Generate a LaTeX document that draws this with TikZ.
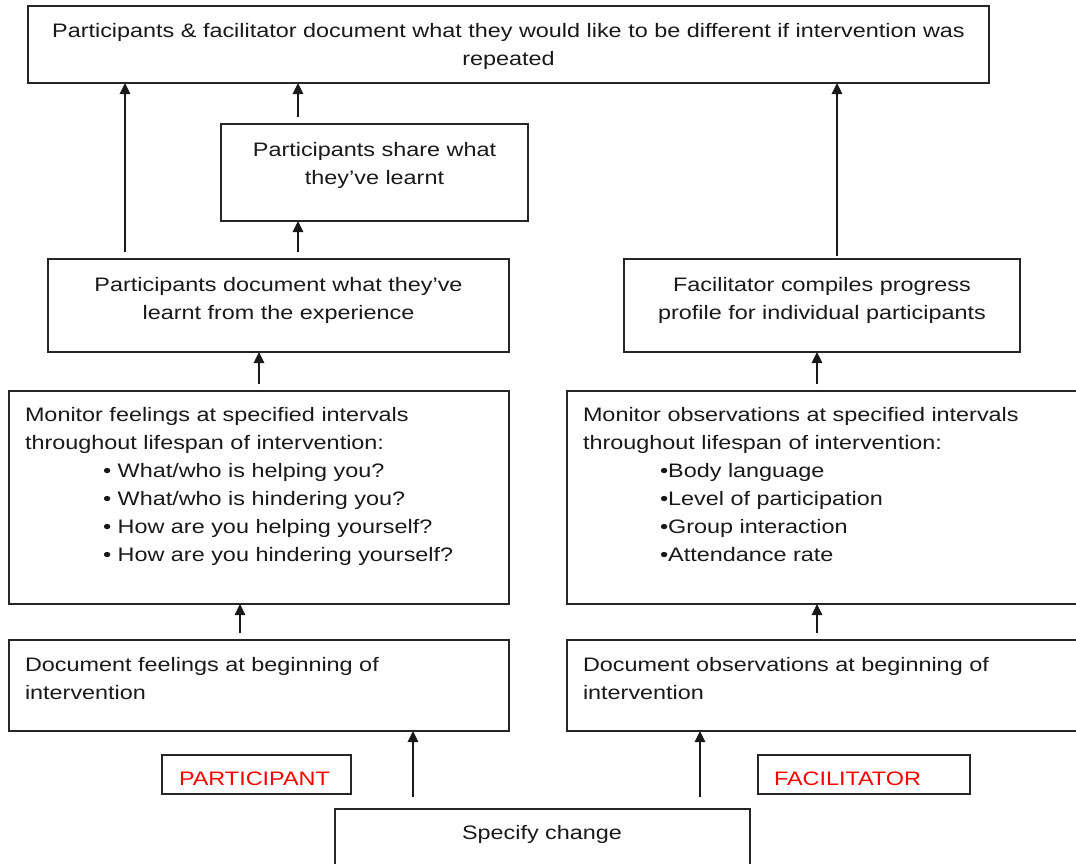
\documentclass[tikz,border=0pt]{standalone}
\usepackage{fontspec}
\setmainfont[FakeStretch=1.2]{Liberation Sans}
\usetikzlibrary{arrows.meta}
\begin{document}
\begin{tikzpicture}[x=1pt,y=-1pt,
  box/.style={draw=black!85, line width=1.3pt, inner sep=0pt, outer sep=0pt, anchor=north west},
  txt/.style={inner sep=0pt, outer sep=0pt, font=\fontsize{19.5pt}{28pt}\selectfont, text=black!90},
  redtxt/.style={txt, text=red},
  arr/.style={line width=1.5pt, draw=black!90, -{Triangle[length=11pt,width=10.5pt]}, shorten <=7pt}]
\fill[white] (0,0) rectangle (1076,863);
\useasboundingbox (0,0) rectangle (1076,863);
% boxes
\node[box, minimum width=961pt, minimum height=77pt] (top) at (28,6) {};
\node[box, minimum width=307pt, minimum height=97pt] (share) at (221,124) {};
\node[box, minimum width=461pt, minimum height=93pt] (pdoc) at (48,259) {};
\node[box, minimum width=396pt, minimum height=93pt] (fcomp) at (624,259) {};
\node[box, minimum width=500pt, minimum height=213pt] (monF) at (9,391) {};
\node[box, minimum width=530pt, minimum height=213pt] (monO) at (567,391) {};
\node[box, minimum width=500pt, minimum height=91pt] (docF) at (9,640) {};
\node[box, minimum width=530pt, minimum height=91pt] (docO) at (567,640) {};
\node[box, minimum width=189pt, minimum height=39pt] (part) at (162,755) {};
\node[box, minimum width=212pt, minimum height=39pt] (fac) at (758,755) {};
\node[box, minimum width=415pt, minimum height=80pt] (spec) at (335,809) {};
% texts (anchor base = baseline of the last line)
\node[txt, align=center, anchor=base] (toptext) at (508.5,65) {Participants \& facilitator document what they would like to be different if intervention was\\repeated};
\node[txt, align=center, anchor=base] (sharetext) at (374.5,184) {Participants share what\\they've learnt};
\node[txt, align=center, anchor=base] (pdoctext) at (278.5,319) {Participants document what they've\\learnt from the experience};
\node[txt, align=center, anchor=base] (fcomptext) at (822,319) {Facilitator compiles progress\\profile for individual participants};
\node[txt, align=left, anchor=base west] (monFtext) at (25,561) {Monitor feelings at specified intervals\\throughout lifespan of intervention:\\
\hspace*{78pt}• What/who is helping you?\\
\hspace*{78pt}• What/who is hindering you?\\
\hspace*{78pt}• How are you helping yourself?\\
\hspace*{78pt}• How are you hindering yourself?};
\node[txt, align=left, anchor=base west] (monOtext) at (583,561) {Monitor observations at specified intervals\\throughout lifespan of intervention:\\
\hspace*{77pt}•Body language\\
\hspace*{77pt}•Level of participation\\
\hspace*{77pt}•Group interaction\\
\hspace*{77pt}•Attendance rate};
\node[txt, align=left, anchor=base west] (docFtext) at (25,699) {Document feelings at beginning of\\intervention};
\node[txt, align=left, anchor=base west] (docOtext) at (583,699) {Document observations at beginning of\\intervention};
\node[redtxt, anchor=base west] (parttext) at (179,785) {PARTICIPANT};
\node[redtxt, anchor=base west] (factext) at (774,785) {FACILITATOR};
\node[txt, anchor=base] (spectext) at (542,839) {Specify change};
% arrow x positions
\coordinate (xa) at (125,0);
\coordinate (xb) at (298,0);
\coordinate (xc) at (837,0);
\coordinate (xd) at (259,0);
\coordinate (xe) at (817,0);
\coordinate (xf) at (240,0);
\coordinate (xg) at (413,0);
\coordinate (xh) at (700,0);
% connectors
\draw[arr] (pdoc.north -| xa) -- (top.south -| xa);
\draw[arr] (share.north -| xb) -- (top.south -| xb);
\draw[arr] (pdoc.north -| xb) -- (share.south -| xb);
\draw[arr, shorten <=3pt] (fcomp.north -| xc) -- (top.south -| xc);
\draw[arr] (monF.north -| xd) -- (pdoc.south -| xd);
\draw[arr] (monO.north -| xe) -- (fcomp.south -| xe);
\draw[arr] (docF.north -| xf) -- (monF.south -| xf);
\draw[arr] (docO.north -| xe) -- (monO.south -| xe);
\draw[arr, shorten <=12pt] (spec.north -| xg) -- (docF.south -| xg);
\draw[arr, shorten <=12pt] (spec.north -| xh) -- (docO.south -| xh);
\end{tikzpicture}
\end{document}
